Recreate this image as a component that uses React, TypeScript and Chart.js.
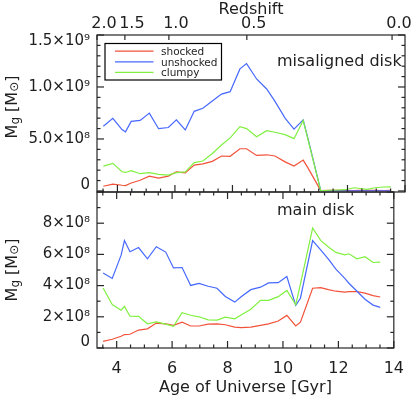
import React, { useEffect, useRef } from "react";
import { Chart, registerables } from "chart.js";

Chart.register(...registerables);

const FONT = "DejaVu Sans";
const INK = "#1e1e1e";
const AXIS = "#262626";

// Age of Universe [Gyr] of each snapshot
const ages = [3.51, 3.84, 4.16, 4.28, 4.48, 4.79, 5.11, 5.43, 5.77, 6.05, 6.36, 6.67, 6.97, 7.30, 7.62, 7.92, 8.26, 8.49, 8.84, 9.19, 9.48, 9.83, 10.14, 10.46, 10.63, 11.07, 11.36, 11.64, 11.91, 12.23, 12.38, 12.67, 12.96, 13.25, 13.51];

// Misaligned disk, gas mass in units of 1e8 Msun
const misShocked = [0.45, 0.65, 0.55, 0.52, 0.77, 1.03, 1.42, 1.23, 1.43, 1.84, 1.74, 2.49, 2.60, 2.85, 3.36, 3.33, 4.06, 4.06, 3.42, 3.48, 3.36, 2.80, 2.39, 2.97, 2.20, 0.04, 0.05, 0.06, 0.05, 0.04, 0.05, 0.06, 0.05, 0.04, 0.05];
const misUnshocked = [6.23, 6.98, 5.90, 5.68, 6.69, 6.79, 7.49, 5.99, 6.10, 6.84, 5.87, 7.66, 7.95, 8.65, 9.32, 9.55, 11.74, 12.25, 10.77, 9.81, 8.61, 7.00, 5.94, 6.84, 5.00, 0.03, 0.02, 0.02, 0.02, 0.02, 0.02, 0.02, 0.02, 0.02, 0.02];
const misClumpy = [2.39, 2.65, 1.85, 1.78, 1.95, 1.66, 1.76, 1.59, 1.53, 1.76, 1.84, 2.73, 2.88, 3.60, 4.42, 5.10, 6.19, 6.00, 5.22, 5.80, 5.65, 5.42, 5.03, 6.77, 4.90, 0.02, 0.07, 0.09, 0.12, 0.31, 0.26, 0.16, 0.31, 0.38, 0.39];

// Main disk, gas mass in units of 1e8 Msun
const mainShocked = [0.43, 0.56, 0.75, 0.86, 0.88, 1.15, 1.23, 1.60, 1.55, 1.45, 1.66, 1.41, 1.41, 1.53, 1.55, 1.49, 1.34, 1.30, 1.34, 1.45, 1.55, 1.73, 2.09, 1.41, 1.66, 3.83, 3.87, 3.74, 3.64, 3.58, 3.61, 3.61, 3.52, 3.36, 3.27];
const mainUnshocked = [4.81, 4.46, 5.95, 6.89, 6.17, 6.44, 5.72, 6.49, 6.15, 5.13, 5.16, 4.01, 4.14, 3.96, 3.83, 3.30, 2.94, 3.29, 3.74, 3.90, 4.17, 4.19, 4.58, 2.73, 3.19, 6.88, 6.29, 5.69, 5.05, 4.46, 4.15, 3.64, 3.13, 2.75, 2.60];
const mainClumpy = [3.85, 2.79, 2.42, 2.67, 2.04, 2.03, 1.55, 1.67, 1.53, 1.39, 2.26, 2.10, 2.00, 1.80, 1.79, 1.98, 1.87, 2.11, 2.49, 3.05, 3.05, 3.29, 3.69, 2.77, 4.10, 7.69, 6.90, 6.47, 6.13, 5.97, 6.04, 5.72, 5.85, 5.48, 5.50];

const seriesNames = ["shocked", "unshocked", "clumpy"];
const seriesColors = ["rgb(242,82,58)", "rgb(70,104,255)", "rgb(128,240,64)"];
const panelTitles = ["misaligned disk", "main disk"];

const ageTicks = [4, 6, 8, 10, 12, 14];
const redshiftAges = [3.29, 4.26, 5.79, 8.5, 13.55];
const redshiftLabels = ["2.0", "1.5", "1.0", "0.5", "0.0"];

const topYTicks = [0, 5, 10, 15];
const topYLabels = ["0", "5.0×10⁸", "1.0×10⁹", "1.5×10⁹"];
const botYTicks = [0, 2, 4, 6, 8];
const botYLabels = ["0", "2×10⁸", "4×10⁸", "6×10⁸", "8×10⁸"];

const X_MIN = 3.29;
const X_MAX = 14;

const framePlugin = {
  id: "frame",
  afterDatasetsDraw(chart: any, _args: any, o: any) {
    const { ctx, chartArea: a } = chart;
    const xs = chart.scales.x;
    const ys = chart.scales.y;
    ctx.save();
    const seg = (x1: number, y1: number, x2: number, y2: number) => {
      ctx.beginPath();
      ctx.moveTo(x1, y1);
      ctx.lineTo(x2, y2);
      ctx.stroke();
    };
    ctx.strokeStyle = AXIS;
    ctx.lineWidth = 1.2;
    ctx.strokeRect(a.left, a.top, a.right - a.left, a.bottom - a.top);
    // age ticks
    for (let v = Math.ceil(xs.min * 2) / 2; v <= xs.max + 1e-9; v += 0.5) {
      const px = xs.getPixelForValue(v);
      const len = Math.abs(v % 2) < 1e-9 ? 7 : 3.5;
      seg(px, a.bottom, px, a.bottom - len);
      if (o.ageTop) seg(px, a.top, px, a.top + len);
    }
    if (o.redshiftTop) {
      const zs = chart.scales.xz;
      zs.ticks.forEach((t: any) => {
        const px = zs.getPixelForValue(t.value);
        seg(px, a.top, px, a.top + 5);
      });
    }
    // mass ticks
    for (let v = Math.ceil(ys.min); v <= ys.max + 1e-9; v += 1) {
      const py = ys.getPixelForValue(v);
      const len = Math.abs(v % o.yMajor) < 1e-9 ? 7 : 3.5;
      seg(a.left, py, a.left + len, py);
      seg(a.right, py, a.right - len, py);
    }
    // legend
    if (o.legend) {
      const bx = a.left + 8;
      const by = a.top + 8.5;
      ctx.strokeStyle = "#000";
      ctx.lineWidth = 1.2;
      ctx.strokeRect(bx, by, 116.5, 36.5);
      chart.data.datasets.forEach((ds: any, i: number) => {
        const ly = by + 7.7 + i * 10.6;
        ctx.strokeStyle = ds.borderColor;
        ctx.lineWidth = 1.2;
        seg(bx + 10, ly, bx + 48.5, ly);
        ctx.fillStyle = INK;
        ctx.font = `10.5px "${FONT}"`;
        ctx.textAlign = "left";
        ctx.textBaseline = "alphabetic";
        ctx.fillText(ds.label, bx + 56, ly + 3.8);
      });
    }
    // panel label
    ctx.fillStyle = INK;
    ctx.font = `16px "${FONT}"`;
    ctx.textAlign = "left";
    ctx.textBaseline = "alphabetic";
    ctx.fillText(o.label, a.left + 180, a.top + o.labelDy);
    // y axis title  M_g [M_sun]
    const cy = (a.top + a.bottom) / 2 + o.titleDy;
    ctx.translate(17, cy);
    ctx.rotate(-Math.PI / 2);
    const parts = [
      { t: "M", s: 16, dy: 0 },
      { t: "g", s: 12, dy: 2 },
      { t: " [M", s: 16, dy: 0 },
      { t: "⊙", s: 12, dy: 1 },
      { t: "]", s: 16, dy: 0 },
    ];
    let total = 0;
    const widths = parts.map((p) => {
      ctx.font = `${p.s}px "${FONT}"`;
      const w = ctx.measureText(p.t).width;
      total += w;
      return w;
    });
    let x = -total / 2;
    parts.forEach((p, i) => {
      ctx.font = `${p.s}px "${FONT}"`;
      ctx.fillText(p.t, x, p.dy);
      x += widths[i];
    });
    ctx.restore();
  },
};

function datasetsFor(series: number[][]) {
  return series.map((vals, i) => ({
    label: seriesNames[i],
    data: ages.map((a, j) => ({ x: a, y: vals[j] })),
    borderColor: seriesColors[i],
    backgroundColor: seriesColors[i],
    borderWidth: 1.2,
    pointRadius: 0,
    fill: false,
    tension: 0,
    order: 2 - i,
  }));
}

function yScale(min: number, max: number, ticks: number[], labels: string[]) {
  return {
    type: "linear",
    position: "left",
    min,
    max,
    afterBuildTicks: (s: any) => {
      s.ticks = ticks.map((v) => ({ value: v }));
    },
    afterFit: (s: any) => {
      s.width = 97;
    },
    grid: { display: false, drawTicks: false },
    border: { display: false },
    ticks: {
      autoSkip: false,
      padding: 7,
      color: INK,
      font: { family: FONT, size: 15, lineHeight: 0.8 },
      callback: (_v: any, i: number) => {
        const lab = labels[i];
        if (ticks[i] <= min + 0.5) return [lab, ""];
        if (ticks[i] >= max - 0.5) return ["", lab];
        return lab;
      },
    },
  };
}

function makeTop(): any {
  return {
    type: "line",
    data: { datasets: datasetsFor([misShocked, misUnshocked, misClumpy]) },
    options: {
      responsive: false,
      animation: false,
      events: [],
      layout: { padding: { top: 0, left: 0, right: 10, bottom: 204 } },
      plugins: {
        legend: { display: false },
        tooltip: { enabled: false },
        frame: { ageTop: false, redshiftTop: true, yMajor: 5, legend: true, label: panelTitles[0], labelDy: 31, titleDy: -6.5 },
      },
      scales: {
        x: { type: "linear", display: false, min: X_MIN, max: X_MAX },
        xz: {
          type: "linear",
          position: "top",
          min: X_MIN,
          max: X_MAX,
          afterBuildTicks: (s: any) => {
            s.ticks = redshiftAges.map((v) => ({ value: v }));
          },
          afterFit: (s: any) => {
            s.height = 35;
          },
          grid: { display: false, drawTicks: false },
          border: { display: false },
          ticks: {
            autoSkip: false,
            maxRotation: 0,
            labelOffset: 7,
            padding: 2,
            color: INK,
            font: { family: FONT, size: 16 },
            callback: (_v: any, i: number) => redshiftLabels[i],
          },
          title: { display: true, text: "Redshift", color: INK, font: { family: FONT, size: 16, lineHeight: 1 }, padding: { top: 2, bottom: 0 } },
        },
        y: yScale(-0.1, 15, topYTicks, topYLabels),
      },
    },
    plugins: [framePlugin],
  };
}

function makeBottom(): any {
  return {
    type: "line",
    data: { datasets: datasetsFor([mainShocked, mainUnshocked, mainClumpy]) },
    options: {
      responsive: false,
      animation: false,
      events: [],
      layout: { padding: { top: 192, left: 0, right: 10, bottom: 0 } },
      plugins: {
        legend: { display: false },
        tooltip: { enabled: false },
        frame: { ageTop: true, redshiftTop: false, yMajor: 2, legend: false, label: panelTitles[1], labelDy: 23, titleDy: 0 },
      },
      scales: {
        x: {
          type: "linear",
          position: "bottom",
          min: X_MIN,
          max: X_MAX,
          afterBuildTicks: (s: any) => {
            s.ticks = ageTicks.map((v) => ({ value: v }));
          },
          afterFit: (s: any) => {
            s.height = 48;
          },
          grid: { display: false, drawTicks: false },
          border: { display: false },
          ticks: {
            autoSkip: false,
            maxRotation: 0,
            padding: 11,
            color: INK,
            font: { family: FONT, size: 16 },
            callback: (v: any) => String(v),
          },
          title: { display: true, text: "Age of Universe [Gyr]", color: INK, font: { family: FONT, size: 16, lineHeight: 1 }, padding: 0 },
        },
        y: yScale(0, 10, botYTicks, botYLabels),
      },
    },
    plugins: [framePlugin],
  };
}

export default function App() {
  const topRef = useRef<HTMLCanvasElement>(null);
  const botRef = useRef<HTMLCanvasElement>(null);
  useEffect(() => {
    const c2 = new Chart(botRef.current as HTMLCanvasElement, makeBottom());
    const c1 = new Chart(topRef.current as HTMLCanvasElement, makeTop());
    return () => {
      c1.destroy();
      c2.destroy();
    };
  }, []);
  const cs: React.CSSProperties = { position: "absolute", left: 0, top: 0, width: 415, height: 396 };
  return (
    <div style={{ position: "fixed", left: 0, top: 0, width: 415, height: 396, background: "#ffffff" }}>
      <canvas ref={botRef} width={415} height={396} style={cs} />
      <canvas ref={topRef} width={415} height={396} style={cs} />
    </div>
  );
}
